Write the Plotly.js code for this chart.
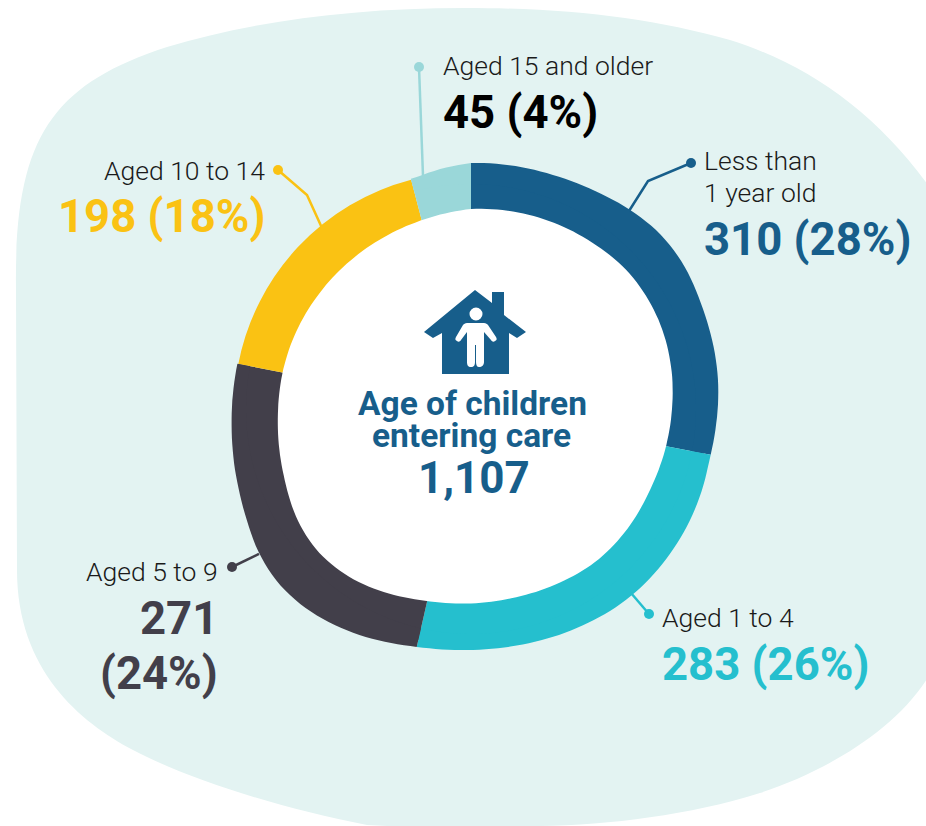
<!DOCTYPE html>
<html><head><meta charset="utf-8">
<script src="https://cdn.plot.ly/plotly-3.0.1.min.js"></script>
<style>html,body{margin:0;padding:0;background:#fff}#c{width:926px;height:826px}</style>
</head><body><div id="c"></div>
<script>
var categories = ["Less than 1 year old","Aged 1 to 4","Aged 5 to 9","Aged 10 to 14","Aged 15 and older"];
var values = [310,283,271,198,45];
var percents = ["28%","26%","24%","18%","4%"];
var colors = ["#175E8B","#25BFCE","#423F4A","#FAC213","#9AD7D9"];
var total = "1,107";
var W=926,H=826,CX=471,CY=409,R=237;
var fx=function(x){return x/W}, fy=function(y){return 1-y/H};
function path(d){
  return d.replace(/(-?[\d.]+),(-?[\d.]+)/g,function(m,a,b){return fx(+a).toFixed(5)+','+fy(+b).toFixed(5)});
}
// ring outline: [angle clockwise from top, radius]
var outerProfile=[[0,246],[19,248],[30,251],[39,255],[47,257.5],[55,257],[67,252.5],[82,249],[101,244],[111,245],[123,246],[140,246],[153,243.5],[168,241],[180,241],[192.8,244],[208,253],[219,258.5],[228,259.5],[236,256],[244,250],[252.5,245],[266,240],[281,238],[345,238],[353,242],[360,246]];
var innerProfile=[[0,200],[19,203],[34,205.5],[50,208.5],[65,207.5],[78,204.5],[90,201],[101,198.5],[114,196.5],[128,197],[141,197],[153,195],[167,193.5],[180,194.5],[193,197],[204,202],[215,207],[226,209],[236,206.5],[251,198.5],[267,193.5],[280,192],[302,190.8],[317,191],[332,192.5],[345,195],[353,197.5],[360,200]];
function radius(p,a){
  var n=p.length,i=0; while(i<n-2&&a>p[i+1][0])i++;
  var a0=p[i][0],a1=p[i+1][0],h=a1-a0,t=(a-a0)/h;
  var m=function(k){ if(k<=0||k>=n-1)return (p[Math.min(k+1,n-1)][1]-p[Math.max(k-1,0)][1])/(p[Math.min(k+1,n-1)][0]-p[Math.max(k-1,0)][0]);
    return (p[k+1][1]-p[k-1][1])/(p[k+1][0]-p[k-1][0]);};
  var t2=t*t,t3=t2*t;
  return (2*t3-3*t2+1)*p[i][1]+(t3-2*t2+t)*h*m(i)+(-2*t3+3*t2)*p[i+1][1]+(t3-t2)*h*m(i+1);
}
function polar(a,r){var t=a*Math.PI/180;return (CX+r*Math.sin(t)).toFixed(1)+','+(CY-r*Math.cos(t)).toFixed(1)}
function arcPts(a0,a1,rf){var out=[],n=Math.max(2,Math.ceil(Math.abs(a1-a0)/1.5));for(var k=0;k<=n;k++){var a=a0+(a1-a0)*k/n;out.push(polar(a,rf(a)))}return out}
var backdrop="M16,290 C14,140 50,85 167,47 C250,22 350,8 465,8 C570,8 650,18 730,40 C810,65 880,115 935,195 L935,665 C905,725 830,770 760,793 C690,815 610,825 540,826 C480,828 420,828 367,825 C280,808 190,780 133,750 C80,722 17,670 17,570 Z";
var house="M475,290 L492,303 L492,292 L504,292 L504,315 L526,332 L517,338 L509,333 L509,374 L442,374 L442,333 L433,338 L424,332 Z";
var person="M467,323 L484,323 C486,323 487,324 488,325 L496,337 C497,339 497,340 495,341 C494,342 492,342 491,340 L484,332 L484,362 C484,365 482,367 479,367 C477,367 476,365 476,362 L476,345 L475,345 L475,362 C475,365 474,367 471,367 C468,367 467,365 467,362 L467,332 L461,340 C460,342 458,342 457,341 C455,340 455,339 456,337 L463,325 C464,324 465,323 467,323 Z";
var sum=values.reduce(function(a,b){return a+b},0),cum=[0];
values.forEach(function(v,i){cum.push(cum[i]+v/sum*360)});
function rim(a0,a1,c){
  var pts=arcPts(a0,a1,function(a){return radius(outerProfile,a)}).concat(arcPts(a1,a0,function(){return R-12}));
  return {type:'path',path:path('M'+pts.join(' L')+' Z'),xref:'paper',yref:'paper',fillcolor:c,line:{width:0},layer:'above'};
}
var shapes=[
 {type:'path',path:path(backdrop),xref:'paper',yref:'paper',fillcolor:'#E3F3F2',line:{width:0},layer:'below'},
 rim(cum[0],cum[1],colors[0]),
 rim(cum[1],cum[2],colors[1]),
 rim(cum[2],cum[3],colors[2]),
 rim(cum[4],cum[5],colors[4]),
 {type:'path',path:path('M'+arcPts(0,360,function(a){return radius(innerProfile,a)}).join(' L')+' Z'),xref:'paper',yref:'paper',fillcolor:'#FFFFFF',line:{width:0},layer:'above'},
 {type:'path',path:path(house),xref:'paper',yref:'paper',fillcolor:colors[0],line:{width:0},layer:'above'},
 {type:'path',path:path(person),xref:'paper',yref:'paper',fillcolor:'#FFFFFF',line:{width:0},layer:'above'},
 {type:'circle',xref:'paper',yref:'paper',x0:fx(469.5),x1:fx(482.5),y0:fy(307.5),y1:fy(320.5),fillcolor:'#FFFFFF',line:{width:0},layer:'above'}
];
function leader(d,c,w,cx,cy){
  shapes.push({type:'path',path:path(d),xref:'paper',yref:'paper',line:{color:c,width:w},layer:'above'});
  shapes.push({type:'circle',xref:'paper',yref:'paper',x0:fx(cx-5),x1:fx(cx+5),y0:fy(cy+5),y1:fy(cy-5),fillcolor:c,line:{width:0},layer:'above'});
}
leader("M691,163 L648,181 L629,211",colors[0],2.5,691,163);
leader("M649,614 L631,593",colors[1],2.5,649,614);
leader("M232,567 L259,554",colors[2],2.5,232,567);
leader("M278,170 L307,195 L322,228",colors[3],2.5,278,170);
leader("M419,67 L423,176",colors[4],2.5,419,67);

var LF={family:'Roboto, sans-serif',size:26.5,color:'#1a1a1a',weight:300};
function VF(c){return {family:'Roboto, sans-serif',size:45.5,color:c,weight:700}}
function VF2(c,s){return {family:'Roboto, sans-serif',size:s,color:c,weight:700}}
function ann(t,x,y,anchor,font){return {text:t,x:fx(x),y:fy(y),xref:'paper',yref:'paper',xanchor:anchor,yanchor:'middle',showarrow:false,font:font,align:anchor,borderpad:0}}
function val(i){return values[i]+' ('+percents[i]+')'}
var annotations=[
 ann('Aged 15 and older',442,66,'left',LF),
 ann(val(4),442,113,'left',VF('#000000')),
 ann('Less than',703,160,'left',LF),
 ann('1 year old',703,192,'left',LF),
 ann(val(0),703,239,'left',VF(colors[0])),
 ann('Aged 10 to 14',266,170,'right',LF),
 ann(val(3),266,217,'right',VF(colors[3])),
 ann('Aged 5 to 9',219,571,'right',LF),
 ann(String(values[2]),219,618,'right',VF(colors[2])),
 ann('('+percents[2]+')',219,673,'right',VF(colors[2])),
 ann('Aged 1 to 4',661,617,'left',LF),
 ann(val(1),661,664,'left',VF(colors[1])),
 ann('Age of children',472,403,'center',VF2(colors[0],33.5)),
 ann('entering care',471,436,'center',VF2(colors[0],33.5)),
 ann(total,474,478,'center',VF2(colors[0],44))
];
var data=[{type:'pie',labels:categories,values:values,sort:false,direction:'clockwise',rotation:0,hole:0.75,
 marker:{colors:colors,line:{width:0}},textinfo:'none',hoverinfo:'label+value',showlegend:false,
 domain:{x:[(CX-R)/W,(CX+R)/W],y:[1-(CY+R)/H,1-(CY-R)/H]}}];
Plotly.newPlot('c',data,{width:W,height:H,margin:{l:0,r:0,t:0,b:0},paper_bgcolor:'#FFFFFF',showlegend:false,shapes:shapes,annotations:annotations},{displayModeBar:false});
</script></body></html>
